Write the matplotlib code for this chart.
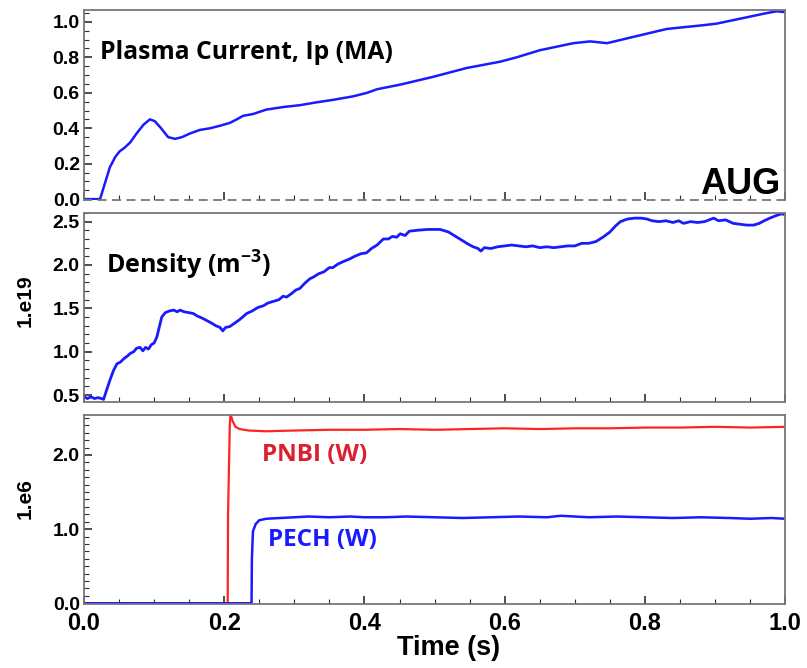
import numpy as np
import matplotlib
matplotlib.use('Agg')
import matplotlib.pyplot as plt
from matplotlib.ticker import MultipleLocator, FormatStrFormatter

# --- data ------------------------------------------------------------------
# plasma current Ip (MA)
t_ip = [0.0, 0.023, 0.030, 0.037, 0.045, 0.051, 0.058, 0.066, 0.075, 0.085,
        0.094, 0.101, 0.110, 0.120, 0.130, 0.140, 0.151, 0.165, 0.180, 0.195,
        0.208, 0.218, 0.227, 0.241, 0.260, 0.285, 0.308, 0.330, 0.355, 0.384,
        0.404, 0.418, 0.451, 0.498, 0.546, 0.593, 0.617, 0.650, 0.698, 0.722,
        0.746, 0.783, 0.831, 0.855, 0.880, 0.902, 0.926, 0.950, 0.974, 0.988,
        1.0]
ip = [0.0, 0.0, 0.09, 0.18, 0.24, 0.27, 0.29, 0.32, 0.37, 0.42,
      0.45, 0.44, 0.40, 0.35, 0.34, 0.35, 0.37, 0.39, 0.40, 0.415,
      0.43, 0.45, 0.47, 0.48, 0.505, 0.52, 0.53, 0.545, 0.56, 0.58,
      0.60, 0.62, 0.646, 0.69, 0.74, 0.775, 0.80, 0.84, 0.88, 0.89,
      0.88, 0.915, 0.96, 0.97, 0.98, 0.99, 1.01, 1.03, 1.05, 1.06,
      1.055]

# line-averaged density (1e19 m^-3)
t_ne = [0.000, 0.005, 0.010, 0.015, 0.020, 0.025, 0.028, 0.032, 0.037, 0.042,
        0.047, 0.052, 0.057, 0.062, 0.066, 0.071, 0.075, 0.080, 0.084, 0.088,
        0.092, 0.096, 0.100, 0.104, 0.108, 0.111, 0.116, 0.122, 0.128, 0.133,
        0.137, 0.143, 0.150, 0.156, 0.162, 0.168, 0.175, 0.182, 0.188, 0.194,
        0.198, 0.202, 0.208, 0.215, 0.222, 0.232, 0.240, 0.248, 0.256, 0.262,
        0.270, 0.278, 0.284, 0.289, 0.296, 0.302, 0.308, 0.315, 0.322, 0.327,
        0.335, 0.342, 0.350, 0.355, 0.362, 0.370, 0.379, 0.386, 0.395, 0.403,
        0.410, 0.418, 0.427, 0.434, 0.440, 0.446, 0.451, 0.458, 0.464, 0.475,
        0.490, 0.508, 0.520, 0.530, 0.540, 0.548, 0.555, 0.562, 0.566, 0.571,
        0.580, 0.590, 0.600, 0.610, 0.620, 0.630, 0.640, 0.650, 0.660, 0.670,
        0.680, 0.690, 0.700, 0.710, 0.720, 0.730, 0.740, 0.750, 0.758, 0.765,
        0.775, 0.785, 0.795, 0.803, 0.810, 0.820, 0.830, 0.840, 0.848, 0.855,
        0.865, 0.875, 0.885, 0.898, 0.905, 0.915, 0.926, 0.935, 0.945, 0.955,
        0.963, 0.970, 0.978, 0.987, 0.995, 1.000]
ne = [0.48, 0.46, 0.48, 0.46, 0.47, 0.46, 0.45, 0.55, 0.67, 0.78,
      0.86, 0.88, 0.92, 0.95, 0.98, 1.00, 1.04, 1.05, 1.01, 1.05,
      1.03, 1.08, 1.10, 1.17, 1.30, 1.40, 1.45, 1.47, 1.48, 1.46,
      1.48, 1.46, 1.45, 1.44, 1.41, 1.39, 1.36, 1.33, 1.30, 1.28,
      1.24, 1.28, 1.29, 1.33, 1.37, 1.44, 1.47, 1.51, 1.53, 1.56,
      1.58, 1.60, 1.64, 1.63, 1.67, 1.71, 1.73, 1.79, 1.84, 1.86,
      1.90, 1.92, 1.97, 1.97, 2.01, 2.04, 2.07, 2.10, 2.13, 2.14,
      2.19, 2.23, 2.30, 2.30, 2.33, 2.32, 2.36, 2.34, 2.39, 2.40,
      2.41, 2.41, 2.38, 2.33, 2.28, 2.24, 2.21, 2.19, 2.16, 2.20,
      2.19, 2.21, 2.22, 2.23, 2.22, 2.21, 2.22, 2.20, 2.21, 2.20,
      2.21, 2.22, 2.22, 2.25, 2.25, 2.27, 2.32, 2.38, 2.45, 2.50,
      2.53, 2.54, 2.54, 2.53, 2.51, 2.50, 2.51, 2.49, 2.51, 2.48,
      2.50, 2.49, 2.50, 2.54, 2.51, 2.52, 2.48, 2.47, 2.46, 2.46,
      2.48, 2.51, 2.54, 2.57, 2.59, 2.58]

# heating powers (1e6 W)
t_nbi = [0.0, 0.205, 0.2055, 0.208, 0.209, 0.212, 0.216, 0.222, 0.235, 0.260,
         0.300, 0.350, 0.400, 0.450, 0.500, 0.550, 0.600, 0.650, 0.700, 0.750,
         0.800, 0.850, 0.900, 0.950, 1.000]
p_nbi = [0.0, 0.0, 1.20, 2.40, 2.55, 2.46, 2.38, 2.35, 2.33, 2.32,
         2.33, 2.34, 2.34, 2.35, 2.34, 2.35, 2.36, 2.35, 2.36, 2.36,
         2.37, 2.37, 2.38, 2.37, 2.38]

t_ech = [0.0, 0.239, 0.2395, 0.241, 0.245, 0.250, 0.260, 0.280, 0.300, 0.320,
         0.350, 0.380, 0.400, 0.430, 0.460, 0.500, 0.540, 0.580, 0.620, 0.660,
         0.680, 0.720, 0.760, 0.800, 0.840, 0.880, 0.920, 0.950, 0.980, 1.000]
p_ech = [0.0, 0.0, 0.60, 0.97, 1.07, 1.12, 1.14, 1.15, 1.16, 1.17,
         1.16, 1.17, 1.16, 1.16, 1.17, 1.16, 1.15, 1.16, 1.17, 1.16,
         1.18, 1.16, 1.17, 1.16, 1.15, 1.16, 1.15, 1.14, 1.15, 1.14]

BLUE = '#1a1aff'
RED = '#ff2424'
LABEL_FONT = ['Open Sans', 'DejaVu Sans']

plt.rcParams['font.family'] = ['Liberation Sans', 'DejaVu Sans']
plt.rcParams['font.weight'] = 'bold'
plt.rcParams['mathtext.fontset'] = 'custom'
plt.rcParams['mathtext.bf'] = 'Open Sans:bold'
plt.rcParams['mathtext.default'] = 'bf'

fig = plt.figure(figsize=(8.07, 6.68), dpi=100)
ax1 = fig.add_axes([0.104, 0.7006, 0.869, 0.2844])
ax2 = fig.add_axes([0.104, 0.3982, 0.869, 0.2830])
ax3 = fig.add_axes([0.104, 0.0958, 0.869, 0.2830])


def style(ax, ymaj, ymin):
    ax.set_xlim(0, 1.0)
    ax.xaxis.set_major_locator(MultipleLocator(0.2))
    ax.xaxis.set_minor_locator(MultipleLocator(0.05))
    ax.yaxis.set_major_locator(MultipleLocator(ymaj))
    ax.yaxis.set_minor_locator(MultipleLocator(ymin))
    ax.yaxis.set_major_formatter(FormatStrFormatter('%.1f'))
    ax.tick_params(which='both', direction='in', top=False, right=False,
                   color='#303030')
    ax.tick_params(which='major', length=6, width=1.2, labelsize=14, pad=3)
    ax.tick_params(which='minor', length=3.5, width=0.8)
    for s in ax.spines.values():
        s.set_color('#777777')
        s.set_linewidth(1.3)


# --- top: plasma current ---
ax1.plot(t_ip, ip, color=BLUE, lw=1.8)
style(ax1, 0.2, 0.05)
ax1.set_ylim(-0.005, 1.067)
ax1.tick_params(axis='x', labelbottom=False)
ax1.spines['bottom'].set_linestyle((0, (4, 4)))
ax1.text(0.023, 0.83, 'Plasma Current, Ip (MA)', fontsize=17.8, fontweight='bold',
         family=LABEL_FONT, va='center')
ax1.text(0.993, 0.03, 'AUG', fontsize=26, fontweight='bold', ha='right',
         va='baseline', family=['Liberation Sans', 'DejaVu Sans'])

# --- middle: density ---
ax2.plot(t_ne, ne, color=BLUE, lw=2.0)
style(ax2, 0.5, 0.1)
ax2.set_ylim(0.42, 2.6)
ax2.tick_params(axis='x', labelbottom=False)
ax2.text(0.031, 2.0, r'Density (m$^{-3}$)', fontsize=18, fontweight='bold',
         family=LABEL_FONT, va='center')
fig.text(0.031, 0.55, '1.e19', rotation=90, fontsize=15, fontweight='bold',
         ha='center', va='center')

# --- bottom: heating power ---
ax3.plot(t_nbi, p_nbi, color=RED, lw=1.6)
ax3.plot(t_ech, p_ech, color=BLUE, lw=1.8)
style(ax3, 1.0, 0.1)
ax3.set_ylim(-0.01, 2.54)
ax3.tick_params(axis='x', labelsize=17, pad=6)
ax3.xaxis.set_major_formatter(FormatStrFormatter('%.1f'))
ax3.text(0.254, 2.0, 'PNBI (W)', fontsize=17.5, fontweight='bold', color='#dc1f2f',
         family=LABEL_FONT, va='center')
ax3.text(0.262, 0.85, 'PECH (W)', fontsize=17.5, fontweight='bold', color=BLUE,
         family=LABEL_FONT, va='center')
ax3.set_xlabel('Time (s)', fontsize=19.5, fontweight='bold')
ax3.xaxis.set_label_coords(0.52, -0.165, transform=ax3.transAxes)
ax3.xaxis.label.set_va('top')
fig.text(0.031, 0.254, '1.e6', rotation=90, fontsize=15, fontweight='bold',
         ha='center', va='center')

fig.savefig('out.png', dpi=100)
